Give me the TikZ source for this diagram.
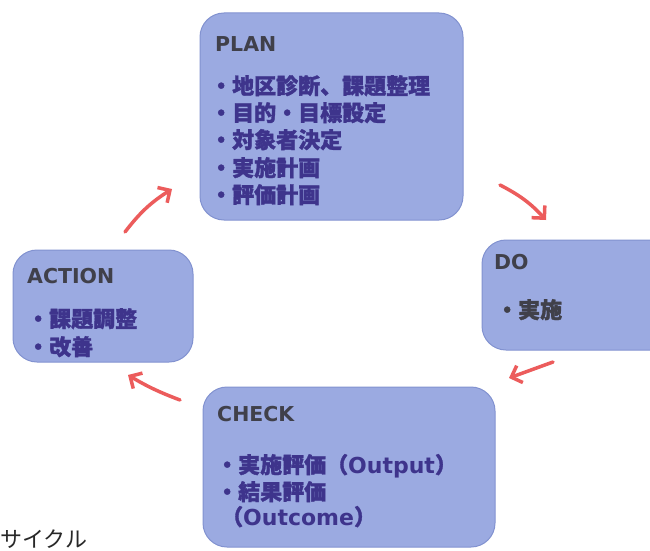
\documentclass[tikz,border=0pt]{standalone}
\usepackage{fontspec}
\newfontfamily\jp{Noto Sans CJK JP}[BoldFeatures={FakeBold=1.5}]
\newfontfamily\jpr{Noto Sans CJK JP}
\newfontfamily\lat{DejaVu Sans}
\usetikzlibrary{arrows.meta}
\definecolor{boxfill}{RGB}{155,170,225}
\definecolor{boxedge}{RGB}{130,146,208}
\definecolor{itemc}{RGB}{62,52,140}
\definecolor{titlec}{RGB}{64,64,74}
\definecolor{arrowc}{RGB}{236,92,92}
\definecolor{capc}{RGB}{40,40,40}
\begin{document}
\begin{tikzpicture}[x=1pt,y=-1pt,
 box/.style={draw=boxedge, line width=1pt, fill=boxfill, rounded corners=24pt, inner sep=0pt},
 ttl/.style={anchor=base west, inner sep=0pt, text=titlec, font=\lat\bfseries\fontsize{20.5}{20.5}\selectfont},
 item/.style={anchor=base west, inner sep=0pt, text=itemc, font=\jp\bfseries\fontsize{22}{22}\selectfont},
 cyc/.style={-{Straight Barb[length=9pt,width=18pt]}, draw=arrowc, line width=3.5pt, line cap=round}]
\clip (0,0) rectangle (650,551);
\fill[white] (0,0) rectangle (650,551);

% boxes
\node[box, minimum width=263pt, minimum height=207pt] (plan) at (331.5,116.5) {};
\node[box, minimum width=180pt, minimum height=112pt] (action) at (103,306) {};
\node[box, minimum width=208pt, minimum height=110pt] (do) at (586,295) {};
\node[box, minimum width=292pt, minimum height=160pt] (check) at (349,467) {};

% PLAN
\node[ttl] (plant) at (215,52) {PLAN};
\node[item] (p1) at (210,94) {・地区診断、課題整理};
\node[item] (p2) at (210,121) {・目的・目標設定};
\node[item] (p3) at (210,148) {・対象者決定};
\node[item] (p4) at (210,176) {・実施計画};
\node[item] (p5) at (210,203) {・評価計画};

% ACTION
\node[ttl] (actiont) at (27,283) {ACTION};
\node[item] (a1) at (27,327) {・課題調整};
\node[item] (a2) at (27,355) {・改善};

% DO
\node[ttl] (dot) at (494,269) {DO};
\node[item, text=titlec] (d1) at (496,318) {・実施};

% CHECK
\node[ttl] (checkt) at (217,421) {CHECK};
\node[item] (c1) at (216,473) {・実施評価（{\lat Output}）};
\node[item] (c2) at (216,500) {・結果評価};
\node[item] (c3) at (221,525) {（{\lat Outcome}）};

% caption
\node[anchor=base west, inner sep=0pt, text=capc, font=\jpr\fontsize{22}{22}\selectfont] (cap) at (0,547) {サイクル};

% arrows
\coordinate (pd1) at (500,185);
\coordinate (pd2) at (546,220);
\coordinate (dc1) at (553,362);
\coordinate (dc2) at (509,378);
\coordinate (ca1) at (180,400);
\coordinate (ca2) at (128,375);
\coordinate (ap1) at (125,232);
\coordinate (ap2) at (172,189);
\draw[cyc] (pd1) to[bend left=10] (pd2);
\draw[cyc] (dc1) -- (dc2);
\draw[cyc] (ca1) to[bend left=5] (ca2);
\draw[cyc] (ap1) to[bend left=10] (ap2);
\end{tikzpicture}
\end{document}
